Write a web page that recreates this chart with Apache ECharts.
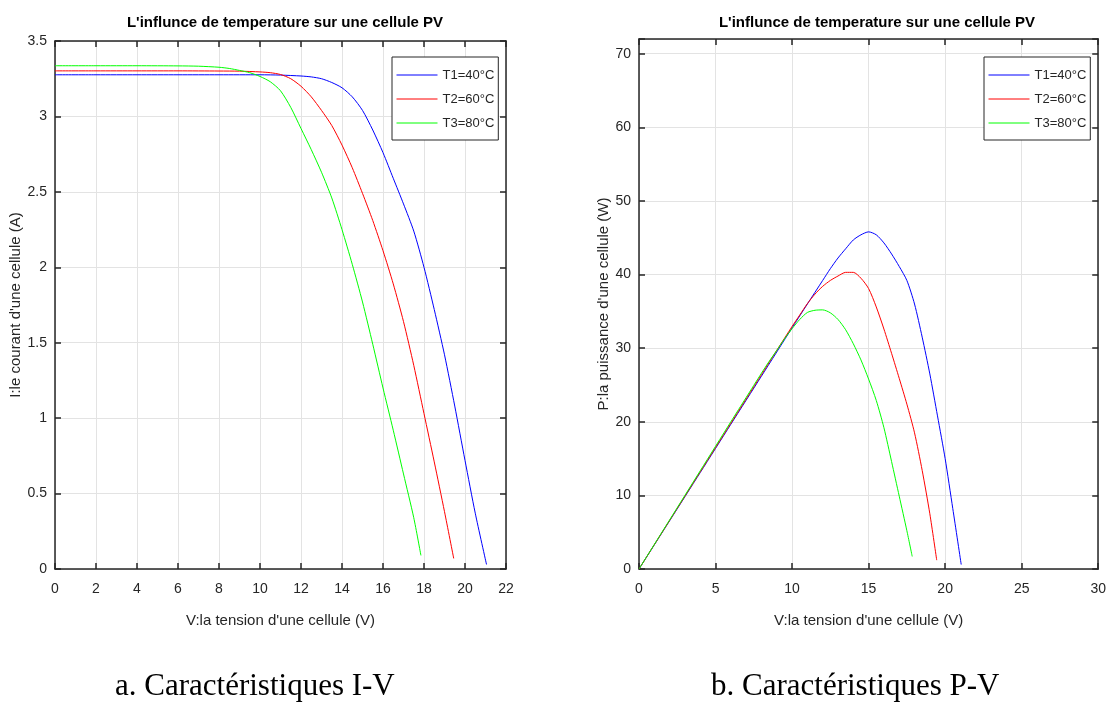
<!DOCTYPE html>
<html>
<head>
<meta charset="utf-8">
<script src="https://cdn.jsdelivr.net/npm/echarts@6/dist/echarts.min.js"></script>
<style>
  html, body { margin: 0; padding: 0; background: #fff; }
  #chart { width: 1109px; height: 708px; }
</style>
</head>
<body>
<div id="chart"></div>
<script>
// courbes I-V et P-V pour trois temperatures
var tensionT1 = [0, 2, 4, 6, 8, 10, 11, 12, 12.5, 13, 13.5, 14, 14.5, 15, 15.5, 16, 16.5, 17, 17.5, 18, 18.5, 19, 19.5, 20, 20.5, 21.05];
var courantT1 = [3.276, 3.276, 3.276, 3.276, 3.276, 3.276, 3.274, 3.268, 3.262, 3.25, 3.225, 3.19, 3.13, 3.04, 2.91, 2.76, 2.59, 2.42, 2.24, 2.0, 1.72, 1.42, 1.08, 0.72, 0.37, 0.03];
var puissanceT1 = [0, 6.55, 13.1, 19.66, 26.2, 32.76, 36.0, 39.2, 40.8, 42.25, 43.5, 44.7, 45.4, 45.8, 45.4, 44.3, 42.8, 41.1, 39.2, 36.0, 31.5, 26.5, 20.8, 15.0, 8.2, 0.6];

var tensionT2 = [0, 2, 4, 6, 8, 9, 10, 10.5, 11, 11.5, 12, 12.5, 13, 13.5, 14, 14.5, 15, 15.5, 16, 16.5, 17, 17.5, 18, 18.5, 19, 19.45];
var courantT2 = [3.302, 3.302, 3.302, 3.302, 3.301, 3.3, 3.295, 3.29, 3.278, 3.25, 3.2, 3.13, 3.04, 2.94, 2.81, 2.66, 2.49, 2.31, 2.11, 1.89, 1.64, 1.35, 1.03, 0.71, 0.38, 0.07];
var puissanceT2 = [0, 6.6, 13.2, 19.8, 26.4, 29.7, 32.95, 34.5, 36.05, 37.35, 38.4, 39.2, 39.8, 40.3, 40.3, 39.5, 38.1, 35.6, 32.6, 29.3, 25.9, 22.4, 18.5, 13.4, 7.5, 1.2];

var tensionT3 = [0, 2, 4, 6, 7, 8, 8.5, 9, 9.5, 10, 10.5, 11, 11.5, 12, 12.5, 13, 13.5, 14, 14.5, 15, 15.5, 16, 16.5, 17, 17.5, 17.85];
var courantT3 = [3.336, 3.336, 3.336, 3.335, 3.333, 3.326, 3.318, 3.305, 3.29, 3.265, 3.23, 3.17, 3.06, 2.92, 2.78, 2.63, 2.46, 2.25, 2.02, 1.77, 1.49, 1.2, 0.92, 0.63, 0.34, 0.09];
var puissanceT3 = [0, 6.67, 13.34, 20.0, 23.3, 26.6, 28.2, 29.7, 31.25, 32.65, 33.9, 34.85, 35.15, 35.2, 34.8, 33.9, 32.5, 30.6, 28.4, 25.8, 22.9, 19.2, 14.6, 9.9, 5.2, 1.7];

var noms = ['T1=40°C', 'T2=60°C', 'T3=80°C'];
var couleurs = ['#0000ff', '#ff0000', '#00ff00'];

var titre = "L'influnce de temperature sur une cellule PV";
var police = "'Liberation Sans', Arial, Helvetica, sans-serif";
var serif = "'Liberation Serif', 'Times New Roman', serif";
var noir = '#262626';

function paires(xs, ys) {
    return xs.map(function (x, i) { return [x, ys[i]]; });
}

function courbe(nom, couleur, donnees, idx) {
    return {
        name: nom,
        type: 'line',
        xAxisIndex: idx,
        yAxisIndex: idx,
        data: donnees,
        symbol: 'none',
        smooth: 0.25,
        lineStyle: {color: couleur, width: 1},
        itemStyle: {color: couleur}
    };
}

function axeBas(min, max, interval, nom, grid) {
    return {
        type: 'value', gridIndex: grid, min: min, max: max, interval: interval,
        position: 'bottom',
        name: nom, nameLocation: 'middle', nameGap: 44,
        nameTextStyle: {color: noir, fontSize: 15, fontFamily: police},
        axisLine: {show: true, lineStyle: {color: noir, width: 1.5}},
        axisTick: {show: true, inside: true, length: 6, lineStyle: {color: noir, width: 1.5}},
        axisLabel: {color: noir, fontSize: 14, fontFamily: police, margin: 13},
        splitLine: {show: true, lineStyle: {color: '#e3e3e3', width: 1}}
    };
}

function axeGauche(min, max, interval, nom, grid, gap) {
    return {
        type: 'value', gridIndex: grid, min: min, max: max, interval: interval,
        position: 'left',
        name: nom, nameLocation: 'middle', nameGap: gap,
        nameTextStyle: {color: noir, fontSize: 15, fontFamily: police},
        axisLine: {show: true, lineStyle: {color: noir, width: 1.5}},
        axisTick: {show: true, inside: true, length: 6, lineStyle: {color: noir, width: 1.5}},
        axisLabel: {color: noir, fontSize: 14, fontFamily: police, margin: 8,
            formatter: function (v) { return (Math.round(v / interval * 1000) / 1000) % 1 === 0 ? String(v) : ''; }},
        splitLine: {show: true, lineStyle: {color: '#e3e3e3', width: 1}}
    };
}

function axeMiroir(min, max, interval, grid, pos) {
    return {
        type: 'value', gridIndex: grid, min: min, max: max, interval: interval,
        position: pos,
        axisLine: {show: true, onZero: false, lineStyle: {color: noir, width: 1.5}},
        axisTick: {show: true, inside: true, length: 6, lineStyle: {color: noir, width: 1.5}},
        axisLabel: {show: false},
        splitLine: {show: false}
    };
}

// pas de rond dans la legende : seulement le trait
var legende = {
    orient: 'vertical',
    backgroundColor: '#fff',
    borderColor: noir,
    borderWidth: 1,
    padding: [11, 4, 10, 4],
    itemGap: 10,
    itemWidth: 41,
    itemHeight: 14,
    itemStyle: {opacity: 0},
    lineStyle: {width: 1},
    textStyle: {color: noir, fontSize: 13, fontFamily: police, lineHeight: 14},
    data: noms
};

var myChart = echarts.init(document.getElementById('chart'), null, {renderer: 'canvas'});

var option = {
    animation: false,
    backgroundColor: '#fff',
    title: [
        {text: titre, left: 280, top: 10, textAlign: 'center',
            textStyle: {fontSize: 15, fontWeight: 'bold', color: '#000', fontFamily: police}},
        {text: titre, left: 872, top: 10, textAlign: 'center',
            textStyle: {fontSize: 15, fontWeight: 'bold', color: '#000', fontFamily: police}}
    ],
    legend: [
        Object.assign({}, legende, {left: 392, top: 57}),
        Object.assign({}, legende, {left: 984, top: 57})
    ],
    grid: [
        {left: 55, top: 41, width: 451, height: 528},
        {left: 639, top: 39, width: 461, height: 530}
    ],
    xAxis: [
        axeBas(0, 22, 2, "V:la tension d'une cellule (V)", 0),
        axeMiroir(0, 22, 2, 0, 'top'),
        axeBas(0, 30, 5, "V:la tension d'une cellule (V)", 1),
        axeMiroir(0, 30, 5, 1, 'top')
    ],
    yAxis: [
        axeGauche(0, 3.5, 0.5, "I:le courant d'une cellule (A)", 0, 29),
        axeMiroir(0, 3.5, 0.5, 0, 'right'),
        axeGauche(0, 72, 10, "P:la puissance d'une cellule (W)", 1, 27),
        axeMiroir(0, 72, 10, 1, 'right')
    ],
    graphic: [
        {type: 'text', left: 115, top: 671,
            style: {text: 'a. Caractéristiques I-V', fill: '#000', font: '31px ' + serif}},
        {type: 'text', left: 711, top: 671,
            style: {text: 'b. Caractéristiques P-V', fill: '#000', font: '31px ' + serif}}
    ],
    series: [
        courbe(noms[0], couleurs[0], paires(tensionT1, courantT1), 0),
        courbe(noms[1], couleurs[1], paires(tensionT2, courantT2), 0),
        courbe(noms[2], couleurs[2], paires(tensionT3, courantT3), 0),
        courbe(noms[0], couleurs[0], paires(tensionT1, puissanceT1), 2),
        courbe(noms[1], couleurs[1], paires(tensionT2, puissanceT2), 2),
        courbe(noms[2], couleurs[2], paires(tensionT3, puissanceT3), 2)
    ]
};

myChart.setOption(option);
window.onresize = myChart.resize;
</script>
</body>
</html>
